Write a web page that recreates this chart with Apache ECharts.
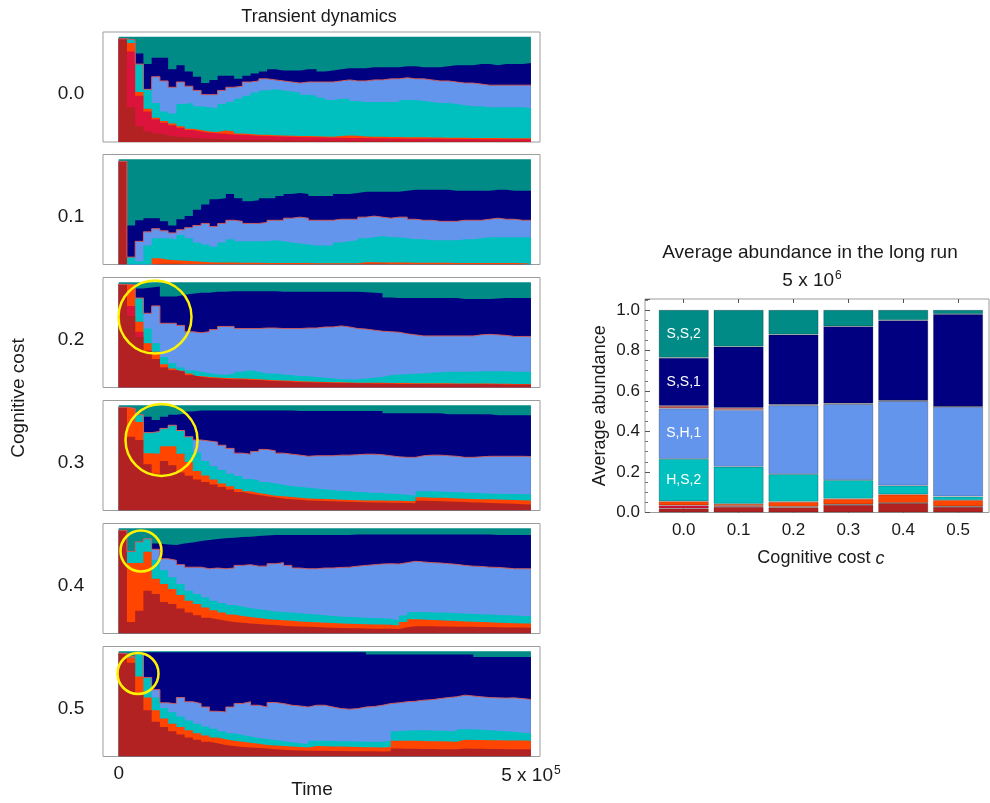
<!DOCTYPE html>
<html>
<head>
<meta charset="utf-8">
<script src="https://cdn.jsdelivr.net/npm/echarts@6/dist/echarts.min.js"></script>
<style>
  html, body { margin: 0; padding: 0; background: #fff; }
  #main { width: 990px; height: 803px; }
</style>
</head>
<body>
<div id="main"></div>
<script>
// cognitive cost values (one transient panel per value, one long-run bar per value)
const costs = ['0.0', '0.1', '0.2', '0.3', '0.4', '0.5'];
const stepLength = 1e4;     // one sampled block of the transient run
const totalShare = 1;       // all strategies together

// transient dynamics: cumulative share up to (and including) each strategy, 50 blocks
// c = 0.0
const navyTop0 = [0.98,0.97,0.84,0.74,0.80,0.80,0.69,0.73,0.67,0.62, 0.56,0.59,0.63,0.63,0.60,0.63,0.65,0.67,0.69,0.68, 0.68,0.68,0.69,0.69,0.67,0.68,0.69,0.70,0.70,0.70, 0.71,0.71,0.71,0.71,0.72,0.72,0.71,0.71,0.71,0.72, 0.73,0.73,0.73,0.74,0.74,0.73,0.74,0.74,0.74,0.75];
const blueTop0 = [0.98,0.97,0.74,0.50,0.62,0.58,0.52,0.57,0.53,0.49, 0.45,0.45,0.49,0.52,0.53,0.57,0.58,0.60,0.59,0.58, 0.57,0.56,0.57,0.57,0.57,0.57,0.58,0.59,0.58,0.58, 0.59,0.59,0.60,0.60,0.61,0.60,0.60,0.59,0.58,0.58, 0.57,0.56,0.56,0.55,0.54,0.54,0.54,0.54,0.54,0.54];
const turqTop0 = [0.98,0.97,0.74,0.50,0.37,0.29,0.27,0.36,0.37,0.34, 0.33,0.32,0.36,0.38,0.41,0.44,0.47,0.49,0.50,0.49, 0.48,0.47,0.45,0.44,0.42,0.40,0.41,0.41,0.39,0.38, 0.38,0.38,0.38,0.38,0.40,0.40,0.39,0.38,0.37,0.37, 0.36,0.35,0.34,0.34,0.33,0.33,0.33,0.33,0.33,0.32];
const orangeTop0 = [0.98,0.94,0.475,0.316,0.23,0.20,0.175,0.15,0.125,0.115, 0.10,0.095,0.11,0.10,0.08,0.075,0.07,0.068,0.065,0.062, 0.06,0.058,0.056,0.054,0.052,0.05,0.058,0.062,0.06,0.052, 0.05,0.049,0.048,0.047,0.046,0.045,0.044,0.043,0.042,0.041, 0.04,0.04,0.039,0.038,0.038,0.037,0.036,0.036,0.035,0.035];
const crimsonTop0 = [0.98,0.86,0.44,0.29,0.215,0.184,0.158,0.136,0.114,0.10, 0.089,0.082,0.077,0.072,0.068,0.064,0.06,0.057,0.054,0.052, 0.05,0.048,0.046,0.044,0.043,0.041,0.04,0.039,0.038,0.037, 0.036,0.035,0.034,0.033,0.032,0.031,0.031,0.03,0.03,0.029, 0.029,0.028,0.028,0.027,0.027,0.026,0.026,0.025,0.025,0.025];
const brickTop0 = [0.98,0.33,0.15,0.10,0.08,0.063,0.05,0.045,0.04,0.035, 0.03,0.028,0.026,0.024,0.022,0.02,0.019,0.018,0.017,0.016, 0.015,0.015,0.014,0.014,0.013,0.013,0.013,0.012,0.012,0.012, 0.011,0.011,0.011,0.011,0.01,0.01,0.01,0.01,0.01,0.01, 0.01,0.01,0.009,0.009,0.009,0.009,0.009,0.009,0.009,0.009];
// c = 0.1
const navyTop1 = [0.98,0.37,0.42,0.44,0.44,0.41,0.37,0.43,0.46,0.52, 0.57,0.62,0.63,0.67,0.63,0.60,0.61,0.63,0.63,0.65, 0.67,0.68,0.67,0.65,0.65,0.65,0.67,0.67,0.68,0.69, 0.69,0.69,0.69,0.69,0.70,0.71,0.71,0.71,0.71,0.71, 0.70,0.70,0.70,0.70,0.70,0.71,0.71,0.70,0.70,0.70];
const blueTop1 = [0.98,0.07,0.22,0.31,0.34,0.32,0.30,0.33,0.35,0.37, 0.39,0.36,0.39,0.42,0.41,0.39,0.39,0.40,0.42,0.42, 0.44,0.45,0.44,0.42,0.42,0.42,0.43,0.43,0.43,0.45, 0.46,0.45,0.44,0.45,0.45,0.43,0.42,0.42,0.41,0.41, 0.41,0.42,0.42,0.42,0.43,0.44,0.43,0.43,0.42,0.42];
const turqTop1 = [0.98,0.07,0.03,0.18,0.25,0.25,0.24,0.28,0.25,0.21, 0.19,0.17,0.21,0.24,0.22,0.22,0.22,0.22,0.23,0.22, 0.21,0.20,0.19,0.18,0.18,0.18,0.21,0.22,0.23,0.25, 0.26,0.27,0.26,0.26,0.25,0.24,0.24,0.23,0.23,0.23, 0.23,0.24,0.24,0.25,0.26,0.26,0.26,0.26,0.26,0.26];
const orangeTop1 = [0.98,0,0,0,0.06,0.045,0.04,0.035,0.03,0.025, 0.022,0.02,0.019,0.018,0.017,0.016,0.016,0.015,0.015,0.015, 0.014,0.014,0.014,0.013,0.013,0.013,0.013,0.013,0.013,0.022, 0.021,0.02,0.019,0.018,0.018,0.017,0.017,0.016,0.016,0.016, 0.015,0.015,0.015,0.015,0.014,0.014,0.014,0.014,0.013,0.013];
const brickTop1 = [0.98,0,0,0,0.006,0.006,0.006,0.005,0.005,0.005, 0.005,0.005,0.005,0.005,0.005,0.005,0.005,0.004,0.004,0.004, 0.004,0.004,0.004,0.004,0.004,0.004,0.004,0.004,0.004,0.006, 0.006,0.006,0.005,0.005,0.005,0.005,0.005,0.005,0.005,0.005, 0.005,0.005,0.005,0.004,0.004,0.004,0.004,0.004,0.004,0.004];
// c = 0.2
const navyTop2 = [0.98,0.975,0.94,0.95,0.96,0.865,0.865,0.88,0.89,0.90, 0.90,0.91,0.91,0.915,0.915,0.915,0.915,0.915,0.915,0.91, 0.91,0.91,0.91,0.91,0.91,0.91,0.91,0.91,0.91,0.905, 0.90,0.895,0.855,0.85,0.85,0.85,0.85,0.85,0.85,0.85, 0.85,0.84,0.84,0.84,0.84,0.845,0.85,0.85,0.85,0.85];
const blueTop2 = [0.98,0.975,0.85,0.705,0.775,0.61,0.61,0.59,0.53,0.52, 0.53,0.55,0.58,0.58,0.56,0.56,0.56,0.565,0.565,0.56, 0.56,0.56,0.565,0.565,0.575,0.575,0.585,0.575,0.56,0.555, 0.545,0.535,0.53,0.525,0.51,0.50,0.49,0.49,0.49,0.49, 0.49,0.49,0.49,0.50,0.505,0.50,0.495,0.485,0.485,0.485];
const turqTop2 = [0.98,0.975,0.85,0.56,0.42,0.29,0.23,0.19,0.165,0.15, 0.135,0.125,0.12,0.13,0.15,0.165,0.15,0.133,0.133,0.124, 0.117,0.11,0.108,0.10,0.092,0.086,0.079,0.079,0.076,0.086, 0.092,0.10,0.117,0.124,0.127,0.13,0.133,0.14,0.145,0.15, 0.15,0.15,0.15,0.155,0.155,0.155,0.155,0.15,0.15,0.15];
const orangeTop2 = [0.98,0.975,0.625,0.42,0.34,0.22,0.18,0.16,0.133,0.11, 0.10,0.095,0.09,0.088,0.086,0.084,0.079,0.073,0.07,0.067, 0.063,0.06,0.057,0.055,0.053,0.051,0.049,0.048,0.046,0.045, 0.044,0.044,0.043,0.042,0.042,0.041,0.041,0.04,0.04,0.04, 0.039,0.039,0.038,0.038,0.037,0.036,0.035,0.034,0.033,0.032];
const crimsonTop2 = [0.98,0.775,0.53,0.35,0.27,0.19,0.165,0.15,0.117,0.10, 0.09,0.085,0.08,0.077,0.075,0.072,0.068,0.063,0.06,0.057, 0.054,0.051,0.048,0.046,0.044,0.043,0.041,0.04,0.038,0.037, 0.036,0.036,0.035,0.034,0.034,0.033,0.033,0.032,0.032,0.032, 0.031,0.031,0.03,0.03,0.029,0.028,0.027,0.026,0.025,0.025];
const brickTop2 = [0.98,0.68,0.48,0.35,0.27,0.19,0.165,0.15,0.117,0.10, 0.09,0.085,0.08,0.077,0.075,0.072,0.068,0.063,0.06,0.057, 0.054,0.051,0.048,0.046,0.044,0.043,0.041,0.04,0.038,0.037, 0.036,0.036,0.035,0.034,0.034,0.033,0.033,0.032,0.032,0.032, 0.031,0.031,0.03,0.03,0.029,0.028,0.027,0.026,0.025,0.025];
// c = 0.3
const navyTop3 = [0.98,0.97,0.91,0.89,0.86,0.89,0.91,0.92,0.94,0.95, 0.95,0.95,0.95,0.95,0.95,0.95,0.95,0.95,0.95,0.95, 0.95,0.945,0.945,0.945,0.945,0.945,0.945,0.945,0.945,0.945, 0.945,0.945,0.925,0.925,0.925,0.925,0.925,0.925,0.925,0.915, 0.915,0.915,0.915,0.915,0.915,0.905,0.905,0.905,0.905,0.905];
const blueTop3 = [0.98,0.97,0.91,0.74,0.75,0.78,0.81,0.76,0.70,0.67, 0.66,0.65,0.62,0.59,0.545,0.535,0.56,0.58,0.567,0.545, 0.535,0.526,0.515,0.52,0.52,0.52,0.526,0.526,0.53,0.535, 0.535,0.53,0.52,0.51,0.505,0.505,0.52,0.526,0.526,0.52, 0.515,0.505,0.505,0.51,0.515,0.515,0.515,0.515,0.515,0.513];
const turqTop3 = [0.98,0.97,0.91,0.74,0.75,0.78,0.81,0.76,0.70,0.55, 0.47,0.42,0.385,0.35,0.327,0.30,0.29,0.27,0.256,0.244, 0.23,0.225,0.215,0.21,0.20,0.195,0.186,0.183,0.176,0.173, 0.167,0.167,0.16,0.157,0.15,0.14,0.183,0.183,0.18,0.176, 0.173,0.17,0.167,0.163,0.16,0.16,0.157,0.157,0.154,0.154];
const orangeTop3 = [0.98,0.97,0.84,0.545,0.54,0.61,0.61,0.54,0.46,0.375, 0.333,0.295,0.256,0.23,0.205,0.183,0.167,0.154,0.141,0.135, 0.128,0.122,0.115,0.112,0.109,0.106,0.103,0.10,0.098,0.096, 0.096,0.094,0.093,0.092,0.09,0.088,0.125,0.12,0.12,0.118, 0.115,0.112,0.11,0.108,0.106,0.104,0.102,0.10,0.098,0.096];
const brickTop3 = [0.98,0.70,0.67,0.44,0.35,0.47,0.43,0.36,0.33,0.295, 0.27,0.247,0.224,0.20,0.176,0.16,0.147,0.135,0.125,0.115, 0.108,0.102,0.096,0.093,0.09,0.087,0.085,0.083,0.081,0.079, 0.077,0.075,0.074,0.073,0.072,0.07,0.093,0.09,0.088,0.085, 0.082,0.08,0.077,0.075,0.072,0.07,0.066,0.063,0.06,0.058];
// c = 0.4
const navyTop4 = [0.98,0.78,0.87,0.90,0.856,0.846,0.84,0.856,0.865,0.878, 0.888,0.897,0.904,0.91,0.917,0.92,0.926,0.93,0.935,0.935, 0.935,0.935,0.935,0.935,0.935,0.935,0.935,0.935,0.94,0.94, 0.94,0.94,0.94,0.94,0.94,0.94,0.94,0.94,0.94,0.94, 0.94,0.94,0.94,0.94,0.94,0.935,0.935,0.935,0.935,0.935];
const blueTop4 = [0.98,0.78,0.87,0.90,0.80,0.71,0.695,0.654,0.63,0.63, 0.615,0.622,0.615,0.622,0.647,0.654,0.64,0.64,0.663,0.673, 0.647,0.622,0.615,0.615,0.622,0.622,0.628,0.63,0.64,0.647, 0.654,0.66,0.663,0.66,0.673,0.686,0.68,0.673,0.67,0.663, 0.657,0.647,0.64,0.637,0.63,0.628,0.622,0.615,0.615,0.615];
const turqTop4 = [0.98,0.78,0.87,0.90,0.70,0.60,0.535,0.47,0.407,0.375, 0.343,0.31,0.29,0.27,0.256,0.24,0.23,0.22,0.21,0.205, 0.20,0.193,0.186,0.18,0.173,0.167,0.16,0.157,0.154,0.15, 0.148,0.145,0.141,0.125,0.17,0.205,0.205,0.20,0.20,0.196, 0.193,0.19,0.186,0.183,0.18,0.176,0.173,0.17,0.167,0.167];
const orangeTop4 = [0.98,0.67,0.67,0.776,0.52,0.47,0.423,0.365,0.31,0.28, 0.247,0.22,0.20,0.18,0.167,0.157,0.147,0.138,0.131,0.125, 0.12,0.115,0.109,0.106,0.103,0.10,0.096,0.093,0.09,0.087, 0.085,0.085,0.082,0.077,0.109,0.135,0.132,0.128,0.125,0.122, 0.119,0.115,0.112,0.109,0.106,0.103,0.10,0.098,0.096,0.096];
const brickTop4 = [0.98,0.11,0.215,0.407,0.375,0.30,0.28,0.237,0.20,0.173, 0.15,0.135,0.122,0.109,0.103,0.096,0.09,0.084,0.08,0.074, 0.07,0.067,0.064,0.061,0.058,0.055,0.053,0.051,0.05,0.048, 0.046,0.045,0.044,0.042,0.06,0.07,0.07,0.068,0.067,0.066, 0.065,0.064,0.063,0.062,0.061,0.06,0.058,0.057,0.056,0.055];
// c = 0.5
const navyTop5 = [0.98,0.95,0.99,0.99,0.99,0.99,0.99,0.99,0.99,0.99, 0.99,0.99,0.99,0.99,0.99,0.99,0.99,0.99,0.99,0.99, 0.99,0.99,0.99,0.99,0.99,0.99,0.99,0.99,0.99,0.99, 0.968,0.968,0.968,0.968,0.968,0.968,0.968,0.968,0.968,0.968, 0.968,0.968,0.968,0.945,0.945,0.945,0.945,0.945,0.945,0.945];
const blueTop5 = [0.98,0.95,0.98,0.75,0.635,0.51,0.50,0.56,0.52,0.503, 0.47,0.43,0.423,0.47,0.503,0.52,0.487,0.47,0.513,0.503, 0.487,0.48,0.47,0.487,0.487,0.47,0.455,0.45,0.455,0.47, 0.475,0.487,0.503,0.51,0.52,0.525,0.535,0.54,0.55,0.56, 0.567,0.583,0.575,0.567,0.56,0.557,0.555,0.557,0.55,0.542];
const turqTop5 = [0.98,0.95,0.98,0.75,0.56,0.46,0.42,0.38,0.343,0.31, 0.285,0.263,0.24,0.22,0.205,0.19,0.176,0.167,0.157,0.144, 0.135,0.125,0.118,0.15,0.15,0.148,0.146,0.145,0.143,0.14, 0.14,0.14,0.15,0.24,0.247,0.25,0.25,0.247,0.245,0.243, 0.24,0.26,0.26,0.255,0.25,0.245,0.24,0.235,0.225,0.22];
const orangeTop5 = [0.98,0.94,0.76,0.56,0.44,0.36,0.31,0.28,0.25,0.22, 0.20,0.18,0.165,0.15,0.14,0.13,0.12,0.11,0.105,0.10, 0.095,0.09,0.085,0.10,0.098,0.096,0.094,0.092,0.09,0.088, 0.087,0.086,0.09,0.15,0.15,0.15,0.148,0.146,0.144,0.142, 0.14,0.158,0.157,0.156,0.155,0.154,0.153,0.152,0.151,0.15];
const brickTop5 = [0.98,0.89,0.60,0.44,0.33,0.28,0.24,0.21,0.18,0.16, 0.14,0.125,0.11,0.10,0.09,0.085,0.08,0.075,0.07,0.065, 0.06,0.058,0.055,0.055,0.054,0.053,0.052,0.051,0.05,0.05, 0.049,0.048,0.05,0.075,0.074,0.073,0.072,0.071,0.07,0.07, 0.069,0.075,0.074,0.073,0.072,0.071,0.07,0.07,0.069,0.068];

// long run average abundance per strategy (bottom to top of each bar)
const brickAvg   = [0.020, 0.028, 0.026, 0.038, 0.046, 0.028];
const crimsonAvg = [0.015, 0.005, 0.003, 0.002, 0.002, 0.002];
const orangeAvg  = [0.020, 0.010, 0.024, 0.028, 0.041, 0.031];
const hs2Avg     = [0.210, 0.183, 0.136, 0.092, 0.044, 0.018];
const sh1Avg     = [0.249, 0.280, 0.340, 0.375, 0.417, 0.443];
const indianAvg  = [0.012, 0.011, 0.004, 0.003, 0.002, 0.001];
const ss1Avg     = [0.238, 0.302, 0.345, 0.381, 0.397, 0.456];
const ss2Avg     = [0.236, 0.181, 0.122, 0.081, 0.051, 0.021];

const colTeal = '#008b87', colNavy = '#000080', colBlue = '#6495ed', colIndian = '#cd5c5c';
const colTurq = '#00bfbf', colOrange = '#ff4500', colCrimson = '#dc143c', colBrick = '#b22222';
const font = '"Liberation Sans", Arial, sans-serif';
const ink = '#1a1a1a';

const panels = [
  { navy: navyTop0, blue: blueTop0, turq: turqTop0, orange: orangeTop0, crimson: crimsonTop0, brick: brickTop0 },
  { navy: navyTop1, blue: blueTop1, turq: turqTop1, orange: orangeTop1, crimson: null, brick: brickTop1 },
  { navy: navyTop2, blue: blueTop2, turq: turqTop2, orange: orangeTop2, crimson: crimsonTop2, brick: brickTop2 },
  { navy: navyTop3, blue: blueTop3, turq: turqTop3, orange: orangeTop3, crimson: null, brick: brickTop3 },
  { navy: navyTop4, blue: blueTop4, turq: turqTop4, orange: orangeTop4, crimson: null, brick: brickTop4 },
  { navy: navyTop5, blue: blueTop5, turq: turqTop5, orange: orangeTop5, crimson: null, brick: brickTop5 }
];

function toSteps(arr) {
  const pts = arr.map((v, i) => [i * stepLength, v]);
  pts.push([arr.length * stepLength, arr[arr.length - 1]]);
  return pts;
}

function layer(k, arr, color, line) {
  return {
    type: 'line', step: 'end', xAxisIndex: k, yAxisIndex: k,
    symbol: 'none', silent: true, animation: false,
    lineStyle: line ? { width: 1, color: line } : { width: 0, opacity: 0 },
    areaStyle: { color: color, opacity: 1 },
    data: toSteps(arr)
  };
}

function textEl(text, x, y, size, rot, rich) {
  return {
    type: 'text', x: x, y: y, rotation: rot || 0, silent: true,
    style: { text: text, fill: ink, font: size + 'px ' + font, align: 'center', verticalAlign: 'middle', rich: rich }
  };
}

// yellow rings marking the early transient in panels 0.2 - 0.5
function ring(cx, cy, r) {
  return {
    type: 'circle', silent: true, z: 100,
    shape: { cx: cx, cy: cy, r: r },
    style: { fill: null, stroke: '#fff200', lineWidth: 2.5 }
  };
}

const panelTop = [32, 154.5, 277.5, 400.5, 523.5, 646.5];
const grid = [], xAxis = [], yAxis = [], series = [], graphic = [];

panelTop.forEach((top, k) => {
  const p = panels[k];
  grid.push({ left: 103, width: 437, top: top, height: 110, show: true, borderColor: '#9c9c9c', borderWidth: 1 });
  xAxis.push({
    gridIndex: k, type: 'value', min: -1.9 * stepLength, max: 51.1 * stepLength,
    axisLine: { show: false }, axisTick: { show: false }, splitLine: { show: false },
    axisLabel: {
      show: k === 5, customValues: [0, 5e5], margin: 8, fontSize: 19, fontFamily: font, color: ink,
      formatter: v => v === 0 ? '0' : '5 x 10{sup|5}',
      rich: { sup: { fontSize: 12, fontFamily: font, verticalAlign: 'top', padding: [0, 0, 10, 1] } }
    }
  });
  yAxis.push({ gridIndex: k, type: 'value', min: 0, max: 1.045, show: false });
  series.push(layer(k, p.navy.map(() => totalShare), colTeal));
  series.push(layer(k, p.navy, colNavy));
  series.push(layer(k, p.blue, colBlue, colIndian));
  series.push(layer(k, p.turq, colTurq));
  series.push(layer(k, p.orange, colOrange));
  if (p.crimson) series.push(layer(k, p.crimson, colCrimson));
  series.push(layer(k, p.brick, colBrick));
  graphic.push(textEl(costs[k], 71, top + 62, 19));
});

// long run bars: category grid for the bars, wider grid for the frame and y axis
grid.push({ left: 656.3, width: 329.2, top: 299, height: 213.5, show: false });
grid.push({ left: 645, width: 344, top: 299, height: 213.5, show: true, borderColor: '#9c9c9c', borderWidth: 1 });
xAxis.push({
  gridIndex: 6, type: 'category', data: costs,
  axisLine: { show: false },
  axisTick: { show: true, inside: true, alignWithLabel: true, length: 4, lineStyle: { color: '#555' } },
  axisLabel: { fontSize: 17, fontFamily: font, color: ink, margin: 9 },
  name: 'Cognitive cost {i|c}', nameLocation: 'middle', nameGap: 37,
  nameTextStyle: { fontSize: 18, fontFamily: font, color: ink, rich: { i: { fontSize: 18, fontFamily: font, fontStyle: 'italic', color: ink } } }
});
xAxis.push({
  gridIndex: 6, type: 'category', data: costs, position: 'top',
  axisLine: { show: false }, axisLabel: { show: false },
  axisTick: { show: true, inside: true, alignWithLabel: true, length: 4, lineStyle: { color: '#555' } }
});
xAxis.push({ gridIndex: 7, type: 'value', min: 0, max: 1, show: false });
yAxis.push({ gridIndex: 6, type: 'value', min: 0, max: 1.054, show: false });
yAxis.push({
  gridIndex: 7, type: 'value', min: 0, max: 1.054, interval: 0.2,
  axisLine: { show: false }, splitLine: { show: false },
  axisTick: { show: true, inside: true, length: 5, lineStyle: { color: '#555' } },
  minorTick: { show: true, splitNumber: 4, length: 3, lineStyle: { color: '#777' } },
  axisLabel: { fontSize: 17, fontFamily: font, color: ink, margin: 5, showMaxLabel: false, formatter: v => v.toFixed(1) },
  name: 'Average abundance', nameLocation: 'middle', nameGap: 36, nameRotate: 90,
  nameTextStyle: { fontSize: 18, fontFamily: font, color: ink }
});

const avgLayers = [
  { data: brickAvg, color: colBrick },
  { data: crimsonAvg, color: colCrimson },
  { data: orangeAvg, color: colOrange },
  { data: hs2Avg, color: colTurq, tag: 'H,S,2' },
  { data: sh1Avg, color: colBlue, tag: 'S,H,1' },
  { data: indianAvg, color: colIndian },
  { data: ss1Avg, color: colNavy, tag: 'S,S,1' },
  { data: ss2Avg, color: colTeal, tag: 'S,S,2' }
];
avgLayers.forEach(l => {
  series.push({
    type: 'bar', stack: 'avg', xAxisIndex: 6, yAxisIndex: 6, barWidth: 50,
    silent: true, animation: false, data: l.data,
    itemStyle: { color: l.color, borderColor: 'rgba(0,0,0,0.3)', borderWidth: 0.8 },
    label: l.tag ? {
      show: true, position: 'inside', color: '#fff', fontSize: 14, fontFamily: font,
      formatter: p => p.dataIndex === 0 ? l.tag : ''
    } : { show: false }
  });
});

graphic.push(textEl('Transient dynamics', 319, 17, 18));
graphic.push(textEl('Cognitive cost', 19, 398, 19, Math.PI / 2));
graphic.push(textEl('Time', 312, 790, 19));
graphic.push(textEl('Average abundance in the long run', 810, 253, 19));
graphic.push(textEl('5 x 10{sup|6}', 812, 281, 19, 0,
  { sup: { fontSize: 12, fontFamily: font, verticalAlign: 'top', padding: [0, 0, 10, 1] } }));
graphic.push(ring(155, 317, 36.5));
graphic.push(ring(161.5, 440, 36));
graphic.push(ring(141, 551, 20.5));
graphic.push(ring(138, 673.5, 20.5));

const chart = echarts.init(document.getElementById('main'));
chart.setOption({
  animation: false,
  grid: grid, xAxis: xAxis, yAxis: yAxis, series: series, graphic: graphic
});
</script>
</body>
</html>
